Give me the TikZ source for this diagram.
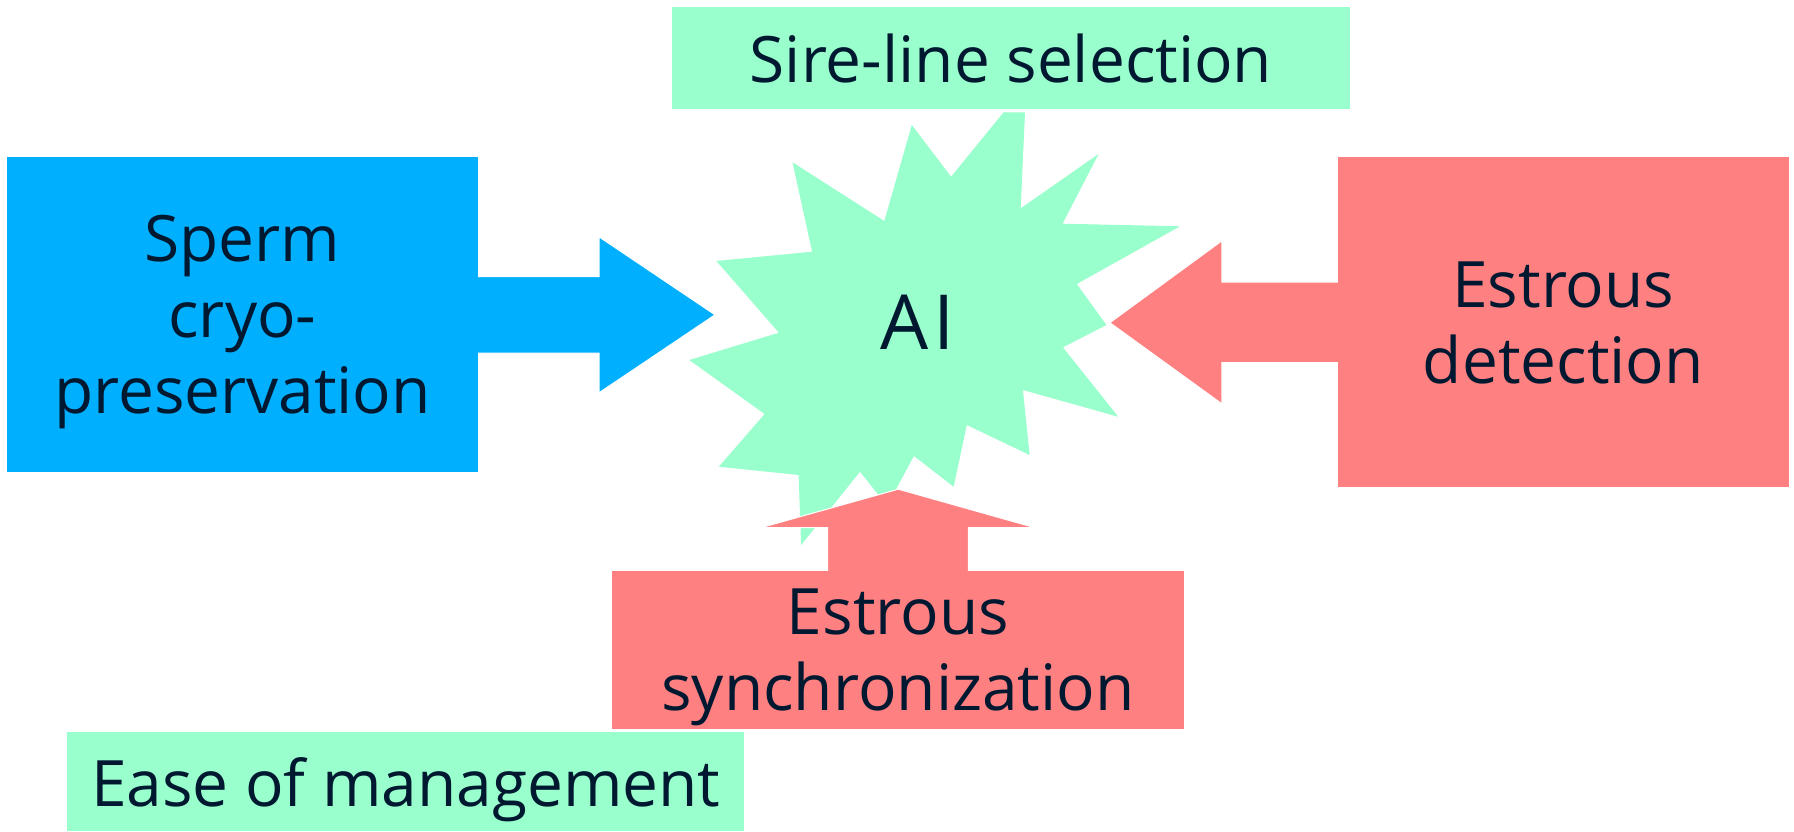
\documentclass[tikz,border=0pt]{standalone}
\usepackage{fontspec}
\setmainfont{Open Sans}
\usetikzlibrary{calc}
\definecolor{mint}{RGB}{153,255,204}
\definecolor{skyb}{RGB}{0,176,255}
\definecolor{salmon}{RGB}{255,128,128}
\definecolor{ink}{RGB}{0,24,48}
\pgfdeclarelayer{back}
\pgfdeclarelayer{mid}
\pgfsetlayers{back,mid,main}

\begin{document}
\begin{tikzpicture}[x=1pt,y=-1pt,
  box/.style={rectangle, inner sep=0pt, outer sep=0pt, align=center,
    text=ink, text depth=0pt, font=\fontsize{64}{76}\selectfont},
  blockarrow/.style={draw=white, line width=1pt, line join=miter}]
\useasboundingbox (0,0) rectangle (1794,831);

% boxes
\node[box, fill=mint, minimum width=678pt, minimum height=102.6pt] (sire) at (1011,58) {Sire-line selection};
\node[box, fill=skyb, minimum width=471pt, minimum height=315pt] (sperm) at (242.5,314.8) {Sperm\\cryo-\\preservation};
\node[box, fill=salmon, minimum width=450.8pt, minimum height=330pt] (detect) at (1563.3,322.3) {Estrous\\detection};
\node[box, fill=salmon, minimum width=572.6pt, minimum height=158.6pt] (sync) at (897.9,650) {Estrous\\synchronization};
\node[box, fill=mint, minimum width=677pt, minimum height=98.7pt] (ease) at (405.9,781.7) {Ease of management};
\node[text=ink, font=\fontsize{76}{80}\selectfont, inner sep=0pt] (ai) at (918,322) {A\kern5pt I};

% starburst behind the centre label
\begin{pgfonlayer}{back}
\fill[white] (0,0) rectangle (1794,831);
\fill[mint] (911.8,125) -- (951.1,176.7) -- (1003.6,112.3) -- (1025,112.3) -- (1020.7,208.3)
  -- (1098.6,154) -- (1062.5,223.7) -- (1180,226.3) -- (1076.8,284) -- (1106.4,325)
  -- (1062.9,347.3) -- (1118.2,416.7) -- (1022.9,390) -- (1029.6,455) -- (966.8,425)
  -- (953.6,486.7) -- (913.9,456) -- (887.1,505.7) -- (860,471.7) -- (801.1,545)
  -- (798.6,475) -- (718.9,466.7) -- (764.6,414) -- (689.3,360) -- (778.9,332.7)
  -- (716.4,261) -- (812.1,251.7) -- (792.5,162.3) -- (884.3,221) -- cycle;
\end{pgfonlayer}

% block arrows pointing at the starburst
\begin{pgfonlayer}{mid}
\path[blockarrow, fill=skyb]
  ($(sperm.east)+(-20,-38.3)$) -- ($(sperm.east)+(121,-38.3)$) -- ($(sperm.east)+(121,-78)$)
  -- ($(sperm.east)+(237,0)$) -- ($(sperm.east)+(121,78)$) -- ($(sperm.east)+(121,38.3)$)
  -- ($(sperm.east)+(-20,38.3)$) -- cycle;
\path[blockarrow, fill=salmon]
  ($(detect.west)+(20,-40.2)$) -- ($(detect.west)+(-116,-40.2)$) -- ($(detect.west)+(-116,-81.5)$)
  -- ($(detect.west)+(-228,0.4)$) -- ($(detect.west)+(-116,81.5)$) -- ($(detect.west)+(-116,40.2)$)
  -- ($(detect.west)+(20,40.2)$) -- cycle;
\path[blockarrow, fill=salmon]
  ($(sync.north)+(-70.4,20)$) -- ($(sync.north)+(-70.4,-43)$) -- ($(sync.north)+(-137,-43)$)
  -- ($(sync.north)+(0.4,-81.5)$) -- ($(sync.north)+(137,-43)$) -- ($(sync.north)+(70.4,-43)$)
  -- ($(sync.north)+(70.4,20)$) -- cycle;
\end{pgfonlayer}
\end{tikzpicture}
\end{document}
